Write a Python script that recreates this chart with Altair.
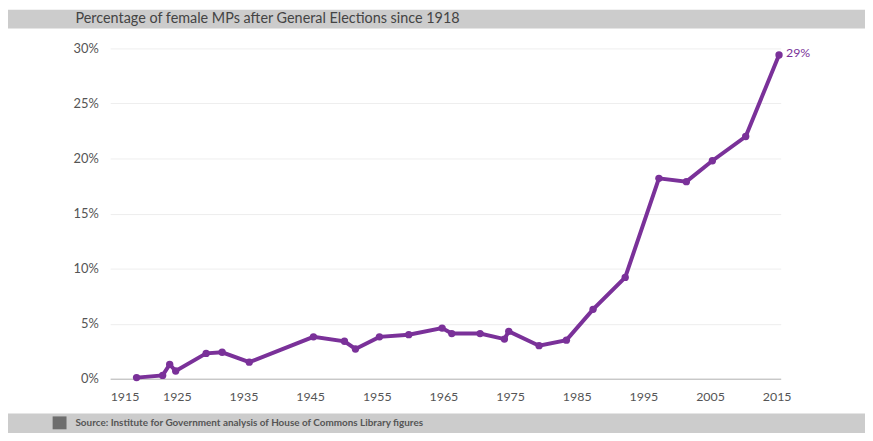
import altair as alt
import pandas as pd

# Election dates (decimal years) and share of female MPs (%)
years = [1918.96, 1922.87, 1923.93, 1924.83, 1929.4, 1931.8, 1935.87, 1945.5,
         1950.15, 1951.8, 1955.4, 1959.8, 1964.8, 1966.25, 1970.5, 1974.15,
         1974.8, 1979.35, 1983.45, 1987.45, 1992.27, 1997.33, 2001.45,
         2005.35, 2010.35, 2015.35]
pct = [0.1, 0.3, 1.3, 0.7, 2.3, 2.4, 1.5, 3.8, 3.4, 2.7, 3.8, 4.0, 4.6, 4.1,
       4.1, 3.6, 4.3, 3.0, 3.5, 6.3, 9.2, 18.2, 17.9, 19.8, 22.0, 29.4]

x_ticks = [1915, 1925, 1935, 1945, 1955, 1965, 1975, 1985, 1995, 2005, 2015]
y_ticks = [0, 5, 10, 15, 20, 25, 30]

title_text = "Percentage of female MPs after General Elections since 1918"
source_text = "Source: Institute for Government analysis of House of Commons Library figures"
end_label = "29%"

df = pd.DataFrame({"year": years, "pct": pct})
last = df.tail(1).assign(label=end_label)

FONT = "Lato"
PURPLE = "#7a3199"
W, H = 676, 333

x = alt.X("year:Q", scale=alt.Scale(domain=[1915, 2015.6], nice=False, zero=False),
          axis=alt.Axis(values=x_ticks, format="d", title=None, grid=False,
                        ticks=False, domainColor="#b5b5b5", labelPadding=12,
                        labelFontSize=12.5, labelColor="#555555", labelFont=FONT))
y = alt.Y("pct:Q", scale=alt.Scale(domain=[0, 30], nice=False),
          axis=alt.Axis(values=y_ticks, labelExpr="datum.value + '%'", title=None,
                        domain=False, ticks=False, gridColor="#eeeeee",
                        labelPadding=12, labelFontSize=13, labelColor="#555555",
                        labelFont=FONT))

base = alt.Chart(df)
line = base.mark_line(color=PURPLE, strokeWidth=4, clip=False).encode(x=x, y=y)
pts = base.mark_circle(color=PURPLE, size=55, opacity=1).encode(x="year:Q", y="pct:Q")
lab = alt.Chart(last).mark_text(align="left", dx=7, dy=-2, fontSize=12.5, font=FONT,
                                color=PURPLE).encode(x="year:Q", y="pct:Q", text="label:N")

deco = pd.DataFrame({"k": [0]})
title_bar = alt.Chart(deco).mark_rect(color="#cccccc").encode(
    x=alt.value(-103), x2=alt.value(761), y=alt.value(-39), y2=alt.value(-20))
title_txt = alt.Chart(deco).mark_text(align="left", baseline="middle", fontSize=14.5,
                                      font=FONT, color="#444444").encode(
    x=alt.value(-35), y=alt.value(-30), text=alt.value(title_text))
foot_bar = alt.Chart(deco).mark_rect(color="#cccccc").encode(
    x=alt.value(-103), x2=alt.value(761), y=alt.value(368), y2=alt.value(390))
foot_icon = alt.Chart(deco).mark_rect(color="#6e6e6e").encode(
    x=alt.value(-58), x2=alt.value(-44), y=alt.value(371), y2=alt.value(384))
foot_txt = alt.Chart(deco).mark_text(align="left", baseline="middle", fontSize=10,
                                     fontWeight="bold", font=FONT, color="#555555").encode(
    x=alt.value(-35), y=alt.value(378), text=alt.value(source_text))

chart = alt.layer(title_bar, title_txt, foot_bar, foot_icon, foot_txt, line, pts, lab).properties(
    width=W, height=H,
    autosize=alt.AutoSizeParams(type="none"),
    padding={"left": 103, "top": 39, "right": 85, "bottom": 53},
).configure(background="white").configure_view(stroke=None)

chart.save("out.html", embed_options={"renderer": "svg", "actions": False})
